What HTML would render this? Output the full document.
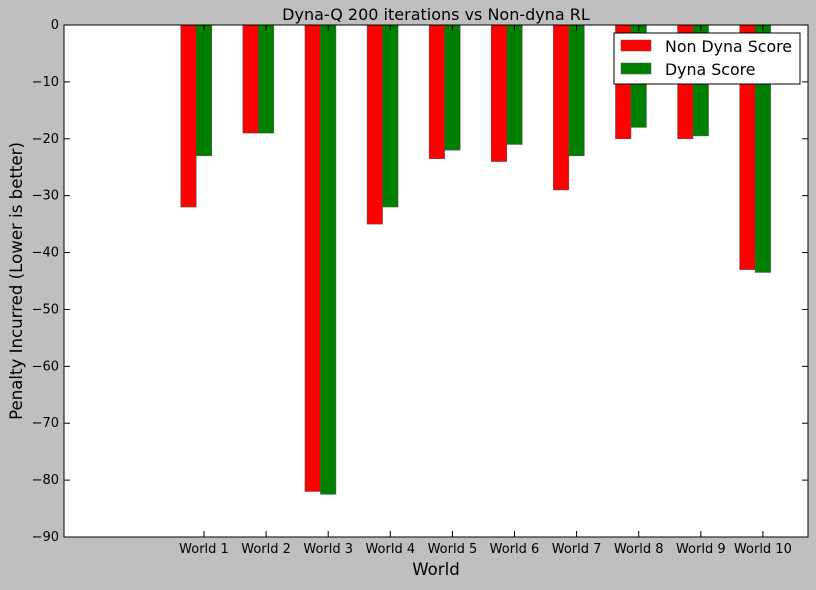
<!DOCTYPE html>
<html><head><meta charset="utf-8"><style>
body{margin:0;background:#bfbfbf;font-family:"DejaVu Sans","Liberation Sans",sans-serif;}
svg text{font-family:"DejaVu Sans","Liberation Sans",sans-serif;}
</style></head><body>
<svg id="chart" width="816" height="586" xmlns="http://www.w3.org/2000/svg">
<rect width="816" height="586" fill="#bfbfbf"/>
<rect x="64" y="25" width="744" height="512" fill="#fff"/>
<text x="436" y="20" font-size="16" text-anchor="middle">Dyna-Q 200 iterations vs Non-dyna RL</text>
<text x="436" y="575" font-size="16.6" text-anchor="middle">World</text>
<text transform="translate(22,281) rotate(-90)" font-size="16.6" text-anchor="middle">Penalty Incurred (Lower is better)</text>
<g id="bars"></g><g id="axes"></g>
<rect x="64" y="25" width="744" height="512" fill="none" stroke="#000"/>
<g>
<rect x="614" y="33" width="186" height="51" fill="#fff" stroke="#000"/>
<g><rect x="621" y="40" width="30" height="11" fill="#f00" stroke="#555" stroke-width="0.5"/><text x="665" y="52" font-size="15.8">Non Dyna Score</text></g>
<g><rect x="621" y="63" width="30" height="11" fill="#008000" stroke="#555" stroke-width="0.5"/><text x="665" y="75" font-size="15.8">Dyna Score</text></g>
</g>
</svg>
<script>
const categories=["World 1","World 2","World 3","World 4","World 5","World 6","World 7","World 8","World 9","World 10"];
const nonDyna=[-32,-19,-82,-35,-23.5,-24,-29,-20,-20,-43];
const dyna=[-23,-19,-82.5,-32,-22,-21,-23,-18,-19.5,-43.5];
const yTicks=[0,-10,-20,-30,-40,-50,-60,-70,-80,-90];
const NS="http://www.w3.org/2000/svg";
const x=i=>204+(i)*62.1;
const y=v=>25+(-v)*512/90;
const bw=15.5;
const bars=document.getElementById('bars'),axes=document.getElementById('axes');
function mk(t,a,p){const e=document.createElementNS(NS,t);for(const k in a)e.setAttribute(k,a[k]);p.appendChild(e);return e;}
categories.forEach((c,i)=>{
 const r=mk('rect',{x:x(i)-bw*1.5,y:y(0),width:bw,height:y(nonDyna[i])-y(0),fill:'#f00',stroke:'#555','stroke-width':0.5},bars);
 
 
 const g=mk('rect',{x:x(i)-bw/2,y:y(0),width:bw,height:y(dyna[i])-y(0),fill:'#008000',stroke:'#555','stroke-width':0.5},bars);
 
 
 mk('line',{x1:x(i),x2:x(i),y1:537,y2:531,stroke:'#000'},axes);
 mk('line',{x1:x(i),x2:x(i),y1:25,y2:31,stroke:'#000'},axes);
 const t=mk('text',{x:x(i),y:553,'font-size':13,'text-anchor':'middle'},axes);t.textContent=c;
 
 
});
yTicks.forEach(v=>{
 mk('line',{x1:64,x2:70,y1:y(v),y2:y(v),stroke:'#000'},axes);
 mk('line',{x1:802,x2:808,y1:y(v),y2:y(v),stroke:'#000'},axes);
 const t=mk('text',{x:59,y:y(v)+4,'font-size':13,'text-anchor':'end'},axes);t.textContent=v===0?'0':'\u2212'+(-v);
 
 
});
</script>
</body></html>
